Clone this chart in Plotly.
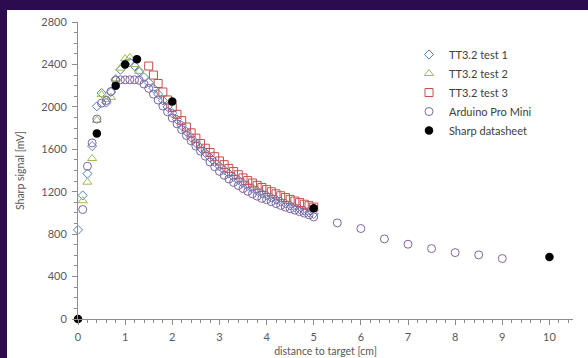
import plotly.graph_objects as go

# ---- data ----
x_test1 = [0.0, 0.1, 0.2, 0.3, 0.4, 0.5, 0.6, 0.7, 0.8, 0.9, 1.0, 1.1, 1.2, 1.3, 1.4, 1.5,
           1.6, 1.7, 1.8, 1.9, 2.0, 2.1, 2.2, 2.3, 2.4, 2.5, 2.6, 2.7, 2.8, 2.9, 3.0,
           3.1, 3.2, 3.3, 3.4, 3.5, 3.6, 3.7, 3.8, 3.9, 4.0, 4.1, 4.2, 4.3, 4.4, 4.5,
           4.6, 4.7, 4.8, 4.9, 5.0]
y_test1 = [840, 1165, 1370, 1630, 2005, 2130, 2040, 2140, 2260, 2350, 2405, 2420, 2385, 2335, 2280, 2230,
           2175, 2120, 2060, 2000, 1940, 1880, 1822, 1766, 1712, 1660, 1612, 1566, 1522, 1480, 1440,
           1405, 1372, 1340, 1310, 1282, 1255, 1231, 1208, 1186, 1165, 1145, 1126, 1107, 1089, 1071,
           1054, 1037, 1021, 1005, 990]

x_test2 = [0.1, 0.2, 0.3, 0.4, 0.5, 0.6, 0.7, 0.8, 0.9, 1.0, 1.1, 1.2, 1.3]
y_test2 = [1115, 1290, 1513, 1875, 2115, 2070, 2090, 2265, 2365, 2455, 2465, 2400, 2335]

x_test3 = [1.5, 1.6, 1.7, 1.8, 1.9, 2.0, 2.1, 2.2, 2.3, 2.4, 2.5, 2.6, 2.7, 2.8, 2.9, 3.0,
           3.1, 3.2, 3.3, 3.4, 3.5, 3.6, 3.7, 3.8, 3.9, 4.0, 4.1, 4.2, 4.3, 4.4, 4.5,
           4.6, 4.7, 4.8, 4.9, 5.0]
y_test3 = [2385, 2300, 2220, 2140, 2065, 1995, 1930, 1870, 1810, 1755, 1705, 1655, 1610, 1570, 1530, 1490,
           1455, 1420, 1390, 1360, 1330, 1305, 1282, 1260, 1240, 1220, 1200, 1180, 1162, 1145, 1128,
           1112, 1097, 1082, 1068, 1055]

x_arduino = [0.1, 0.2, 0.3, 0.4, 0.5, 0.6, 0.7, 0.8, 0.9, 1.0, 1.1, 1.2, 1.3, 1.4, 1.5,
             1.6, 1.7, 1.8, 1.9, 2.0, 2.1, 2.2, 2.3, 2.4, 2.5, 2.6, 2.7, 2.8, 2.9, 3.0,
             3.1, 3.2, 3.3, 3.4, 3.5, 3.6, 3.7, 3.8, 3.9, 4.0, 4.1, 4.2, 4.3, 4.4, 4.5,
             4.6, 4.7, 4.8, 4.9, 5.0, 5.5, 6.0, 6.5, 7.0, 7.5, 8.0, 8.5, 9.0]
y_arduino = [1032, 1440, 1660, 1885, 2035, 2060, 2145, 2250, 2255, 2255, 2255, 2255, 2250, 2215, 2174,
             2120, 2064, 2008, 1953, 1895, 1840, 1785, 1730, 1680, 1630, 1582, 1535, 1480, 1435, 1392,
             1355, 1320, 1288, 1258, 1230, 1204, 1180, 1158, 1137, 1125, 1106, 1088, 1071, 1055, 1040,
             1026, 1012, 998, 982, 962, 906, 853, 755, 705, 664, 626, 604, 570]

x_sharp = [0.0, 0.4, 0.8, 1.0, 1.25, 2.0, 5.0, 10.0]
y_sharp = [0, 1750, 2200, 2400, 2450, 2050, 1045, 585]

names = ["TT3.2 test 1", "TT3.2 test 2", "TT3.2 test 3", "Arduino Pro Mini", "Sharp datasheet"]
colors = ["#4F81BD", "#9BBB59", "#C0504D", "#8064A2", "#000000"]

FONT = "Lato"
GREY = "#595959"
AXIS = "#8C8C8C"
FRAME = "#2c0b4f"

fig = go.Figure()
fig.add_trace(go.Scatter(x=x_test1, y=y_test1, mode="markers", name=names[0], cliponaxis=False,
                         marker=dict(symbol="diamond-open", size=7, color=colors[0], line=dict(width=1))))
fig.add_trace(go.Scatter(x=x_test2, y=y_test2, mode="markers", name=names[1], cliponaxis=False,
                         marker=dict(symbol="triangle-up-open", size=8, color=colors[1], line=dict(width=1))))
fig.add_trace(go.Scatter(x=x_test3, y=y_test3, mode="markers", name=names[2], cliponaxis=False,
                         marker=dict(symbol="square-open", size=8, color=colors[2], line=dict(width=1))))
fig.add_trace(go.Scatter(x=x_arduino, y=y_arduino, mode="markers", name=names[3], cliponaxis=False,
                         marker=dict(symbol="circle-open", size=8, color=colors[3], line=dict(width=1))))
fig.add_trace(go.Scatter(x=x_sharp, y=y_sharp, mode="markers", name=names[4], cliponaxis=False,
                         marker=dict(symbol="circle", size=8.5, color=colors[4])))

# page framing: dark strips on left and top
PW, PH = 495, 296.7
fig.add_shape(type="rect", xref="paper", yref="paper", layer="below",
              x0=-78 / PW, x1=(7 - 78) / PW, y0=(318.7 - 358) / PH, y1=318.7 / PH,
              fillcolor=FRAME, line=dict(width=0))
fig.add_shape(type="rect", xref="paper", yref="paper", layer="below",
              x0=-78 / PW, x1=(588 - 78) / PW, y0=(318.7 - 10) / PH, y1=318.7 / PH,
              fillcolor=FRAME, line=dict(width=0))

fig.update_layout(
    width=588, height=358,
    margin=dict(l=78, r=15, t=22, b=39.3, pad=0, autoexpand=False),
    paper_bgcolor="white", plot_bgcolor="white",
    font=dict(family=FONT, size=10, color=GREY),
    showlegend=True,
    legend=dict(x=(409 - 78) / PW, y=(318.7 - 40) / PH, xanchor="left", yanchor="top",
                bgcolor="rgba(0,0,0,0)", font=dict(family=FONT, size=11, color="#404040"),
                itemwidth=30),
)
fig.update_xaxes(range=[0, 10.5], dtick=1, tick0=0, showgrid=False, zeroline=False,
                 showline=True, linecolor=AXIS, linewidth=1, automargin=False,
                 ticks="outside", ticklen=5, tickcolor=AXIS, ticklabelstandoff=3,
                 tickfont=dict(size=11, color=GREY),
                 minor=dict(dtick=0.2, ticks="outside", ticklen=3, tickcolor=AXIS, showgrid=False),
                 title=dict(text="distance to target [cm]", font=dict(size=10.5, color=GREY), standoff=5))
fig.update_yaxes(range=[0, 2800], dtick=400, tick0=0, showgrid=False, zeroline=False,
                 showline=True, linecolor=AXIS, linewidth=1, automargin=False,
                 ticks="outside", ticklen=5, tickcolor=AXIS, ticklabelstandoff=3,
                 tickfont=dict(size=11, color=GREY),
                 minor=dict(dtick=100, ticks="outside", ticklen=3, tickcolor=AXIS, showgrid=False),
                 title=dict(text="Sharp signal [mV]", font=dict(size=10.5, color=GREY), standoff=14))

fig.write_html("out.html")
